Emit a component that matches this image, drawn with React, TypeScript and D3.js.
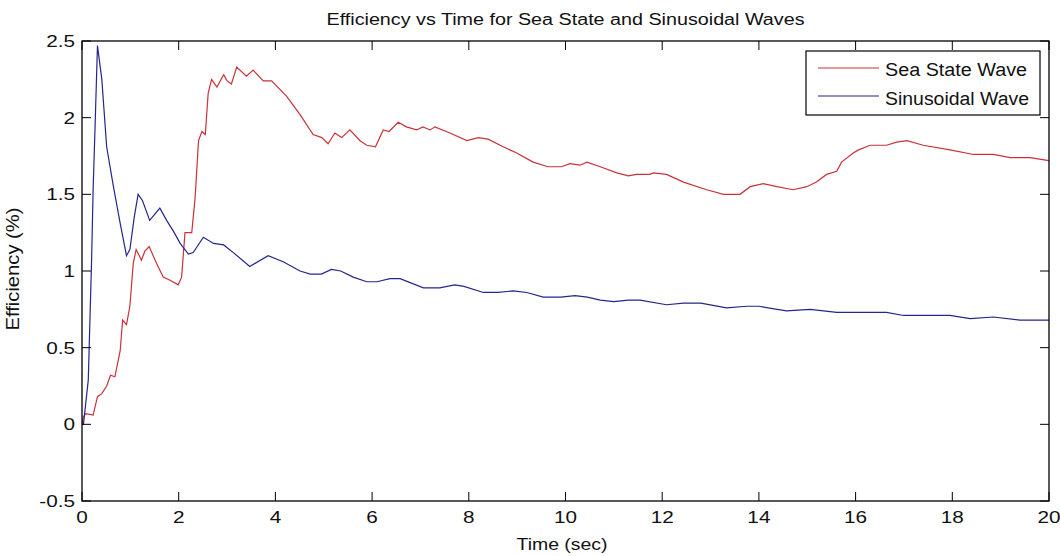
import React from "react";
import * as d3 from "d3";

const title = "Efficiency vs Time for Sea State and Sinusoidal Waves";
const xLabel = "Time (sec)";
const yLabel = "Efficiency (%)";
const seriesNames = ["Sea State Wave", "Sinusoidal Wave"];
const xTicks = [0, 2, 4, 6, 8, 10, 12, 14, 16, 18, 20];
const yTicks = [-0.5, 0, 0.5, 1, 1.5, 2, 2.5];

const seaTime = [0, 0.03, 0.08, 0.23, 0.32, 0.41, 0.51, 0.59, 0.68, 0.79, 0.84, 0.92, 0.99, 1.06, 1.12, 1.23, 1.3, 1.39, 1.54, 1.68, 1.82, 1.99, 2.06, 2.13, 2.27, 2.34, 2.41, 2.48, 2.55, 2.61, 2.68, 2.79, 2.93, 3.0, 3.09, 3.2, 3.4, 3.54, 3.75, 3.92, 4.23, 4.51, 4.78, 4.96, 5.09, 5.23, 5.37, 5.54, 5.75, 5.89, 6.07, 6.23, 6.35, 6.54, 6.71, 6.92, 7.05, 7.2, 7.3, 7.61, 7.96, 8.2, 8.4, 8.71, 8.99, 9.33, 9.64, 9.92, 10.09, 10.3, 10.44, 10.72, 11.06, 11.3, 11.47, 11.74, 11.82, 12.09, 12.44, 12.92, 13.27, 13.61, 13.82, 14.09, 14.37, 14.71, 14.99, 15.19, 15.4, 15.61, 15.71, 15.95, 16.06, 16.3, 16.64, 16.85, 17.06, 17.4, 17.95, 18.44, 18.85, 19.2, 19.61, 20];
const seaEff = [0.0, 0.05, 0.07, 0.06, 0.18, 0.2, 0.25, 0.32, 0.31, 0.48, 0.68, 0.65, 0.77, 1.05, 1.14, 1.07, 1.13, 1.16, 1.05, 0.96, 0.94, 0.91, 0.96, 1.25, 1.25, 1.48, 1.85, 1.91, 1.89, 2.16, 2.25, 2.2, 2.28, 2.24, 2.22, 2.33, 2.27, 2.31, 2.24, 2.24, 2.14, 2.02, 1.89, 1.87, 1.83, 1.9, 1.87, 1.92, 1.85, 1.82, 1.81, 1.92, 1.91, 1.97, 1.94, 1.92, 1.94, 1.92, 1.94, 1.9, 1.85, 1.87, 1.86, 1.81, 1.77, 1.71, 1.68, 1.68, 1.7, 1.69, 1.71, 1.68, 1.64, 1.62, 1.63, 1.63, 1.64, 1.63, 1.58, 1.53, 1.5, 1.5, 1.55, 1.57, 1.55, 1.53, 1.55, 1.58, 1.63, 1.65, 1.71, 1.77, 1.79, 1.82, 1.82, 1.84, 1.85, 1.82, 1.79, 1.76, 1.76, 1.74, 1.74, 1.72];

const sinTime = [0, 0.03, 0.13, 0.2, 0.23, 0.27, 0.32, 0.41, 0.51, 0.65, 0.79, 0.92, 0.99, 1.08, 1.16, 1.25, 1.4, 1.61, 1.75, 1.89, 2.03, 2.2, 2.3, 2.51, 2.72, 2.93, 3.13, 3.47, 3.85, 4.16, 4.51, 4.72, 4.95, 5.16, 5.35, 5.61, 5.89, 6.1, 6.37, 6.58, 7.06, 7.4, 7.71, 7.9, 8.3, 8.6, 8.92, 9.2, 9.54, 9.9, 10.2, 10.45, 10.72, 11.0, 11.3, 11.54, 12.09, 12.44, 12.8, 13.33, 13.75, 14.0, 14.57, 15.06, 15.61, 16.64, 16.99, 17.95, 18.37, 18.85, 19.4, 20];
const sinEff = [0.0, 0.0, 0.29, 1.09, 1.53, 1.94, 2.47, 2.25, 1.81, 1.55, 1.31, 1.1, 1.14, 1.35, 1.5, 1.46, 1.33, 1.41, 1.33, 1.26, 1.18, 1.11, 1.12, 1.22, 1.18, 1.17, 1.12, 1.03, 1.1, 1.06, 1.0, 0.98, 0.98, 1.01, 1.0, 0.96, 0.93, 0.93, 0.95, 0.95, 0.89, 0.89, 0.91, 0.9, 0.86, 0.86, 0.87, 0.86, 0.83, 0.83, 0.84, 0.83, 0.81, 0.8, 0.81, 0.81, 0.78, 0.79, 0.79, 0.76, 0.77, 0.77, 0.74, 0.75, 0.73, 0.73, 0.71, 0.71, 0.69, 0.7, 0.68, 0.68];

const W = 1060;
const H = 556;
const M = { left: 82, top: 41, right: 1049, bottom: 501 };
const RED = "#c8323a";
const BLUE = "#26268a";
const FONT = "'Liberation Sans', Arial, Helvetica, sans-serif";

export default function App() {
  const x = d3.scaleLinear().domain([0, 20]).range([M.left, M.right]);
  const y = d3.scaleLinear().domain([-0.5, 2.5]).range([M.bottom, M.top]);
  const line = d3
    .line<[number, number]>()
    .x((d) => x(d[0]))
    .y((d) => y(d[1]));
  const sea = seaTime.map((t, i) => [t, seaEff[i]] as [number, number]);
  const sin = sinTime.map((t, i) => [t, sinEff[i]] as [number, number]);
  const tl = 9;
  const sx = 1.22;
  const midX = (M.left + M.right) / 2;
  const midY = (M.top + M.bottom) / 2;

  return (
    <svg
      width={W}
      height={H}
      style={{ position: "absolute", left: 0, top: 0, background: "#fff" }}
      fontFamily={FONT}
    >
      <rect x={0} y={0} width={W} height={H} fill="#fff" />
      <text
        x={midX}
        y={25}
        fontSize={16}
        textAnchor="middle"
        textLength={478}
        lengthAdjust="spacingAndGlyphs"
        fill="#111"
      >
        {title}
      </text>

      <g clipPath="url(#plotclip)">
        <path d={line(sea) || ""} fill="none" stroke={RED} strokeWidth={1.2} />
        <path d={line(sin) || ""} fill="none" stroke={BLUE} strokeWidth={1.2} />
      </g>
      <defs>
        <clipPath id="plotclip">
          <rect x={M.left} y={M.top} width={M.right - M.left} height={M.bottom - M.top} />
        </clipPath>
      </defs>

      <rect
        x={M.left}
        y={M.top}
        width={M.right - M.left}
        height={M.bottom - M.top}
        fill="none"
        stroke="#000"
        strokeWidth={1.3}
      />
      {xTicks.map((t) => (
        <g key={"xt" + t}>
          <line x1={x(t)} x2={x(t)} y1={M.bottom} y2={M.bottom - tl} stroke="#000" />
          <line x1={x(t)} x2={x(t)} y1={M.top} y2={M.top + tl} stroke="#000" />
          <text
            transform={`translate(${x(t)},523) scale(${sx},1)`}
            fontSize={17}
            textAnchor="middle"
            fill="#111"
          >
            {String(t)}
          </text>
        </g>
      ))}
      {yTicks.map((t) => (
        <g key={"yt" + t}>
          <line x1={M.left} x2={M.left + tl} y1={y(t)} y2={y(t)} stroke="#000" />
          <line x1={M.right} x2={M.right - tl} y1={y(t)} y2={y(t)} stroke="#000" />
          <text
            transform={`translate(75,${y(t) + 6}) scale(${sx},1)`}
            fontSize={17}
            textAnchor="end"
            fill="#111"
          >
            {String(t)}
          </text>
        </g>
      ))}

      <text
        x={562}
        y={550}
        fontSize={17}
        textAnchor="middle"
        textLength={91}
        lengthAdjust="spacingAndGlyphs"
        fill="#111"
      >
        {xLabel}
      </text>
      <text
        transform={`translate(19,${midY - 2}) rotate(-90)`}
        fontSize={19}
        textAnchor="middle"
        textLength={123}
        lengthAdjust="spacingAndGlyphs"
        fill="#111"
      >
        {yLabel}
      </text>

      <g>
        <rect x={806} y={51} width={234} height={64} fill="#fff" stroke="#000" strokeWidth={1.2} />
        {seriesNames.map((n, i) => (
          <g key={n}>
            <line
              x1={818}
              x2={879}
              y1={68 + i * 28}
              y2={68 + i * 28}
              stroke={i === 0 ? RED : BLUE}
              strokeWidth={1.2}
            />
            <text
              x={885}
              y={76 + i * 29}
              fontSize={18}
              textLength={i === 0 ? 142 : 144}
              lengthAdjust="spacingAndGlyphs"
              fill="#111"
            >
              {n}
            </text>
          </g>
        ))}
      </g>
    </svg>
  );
}
